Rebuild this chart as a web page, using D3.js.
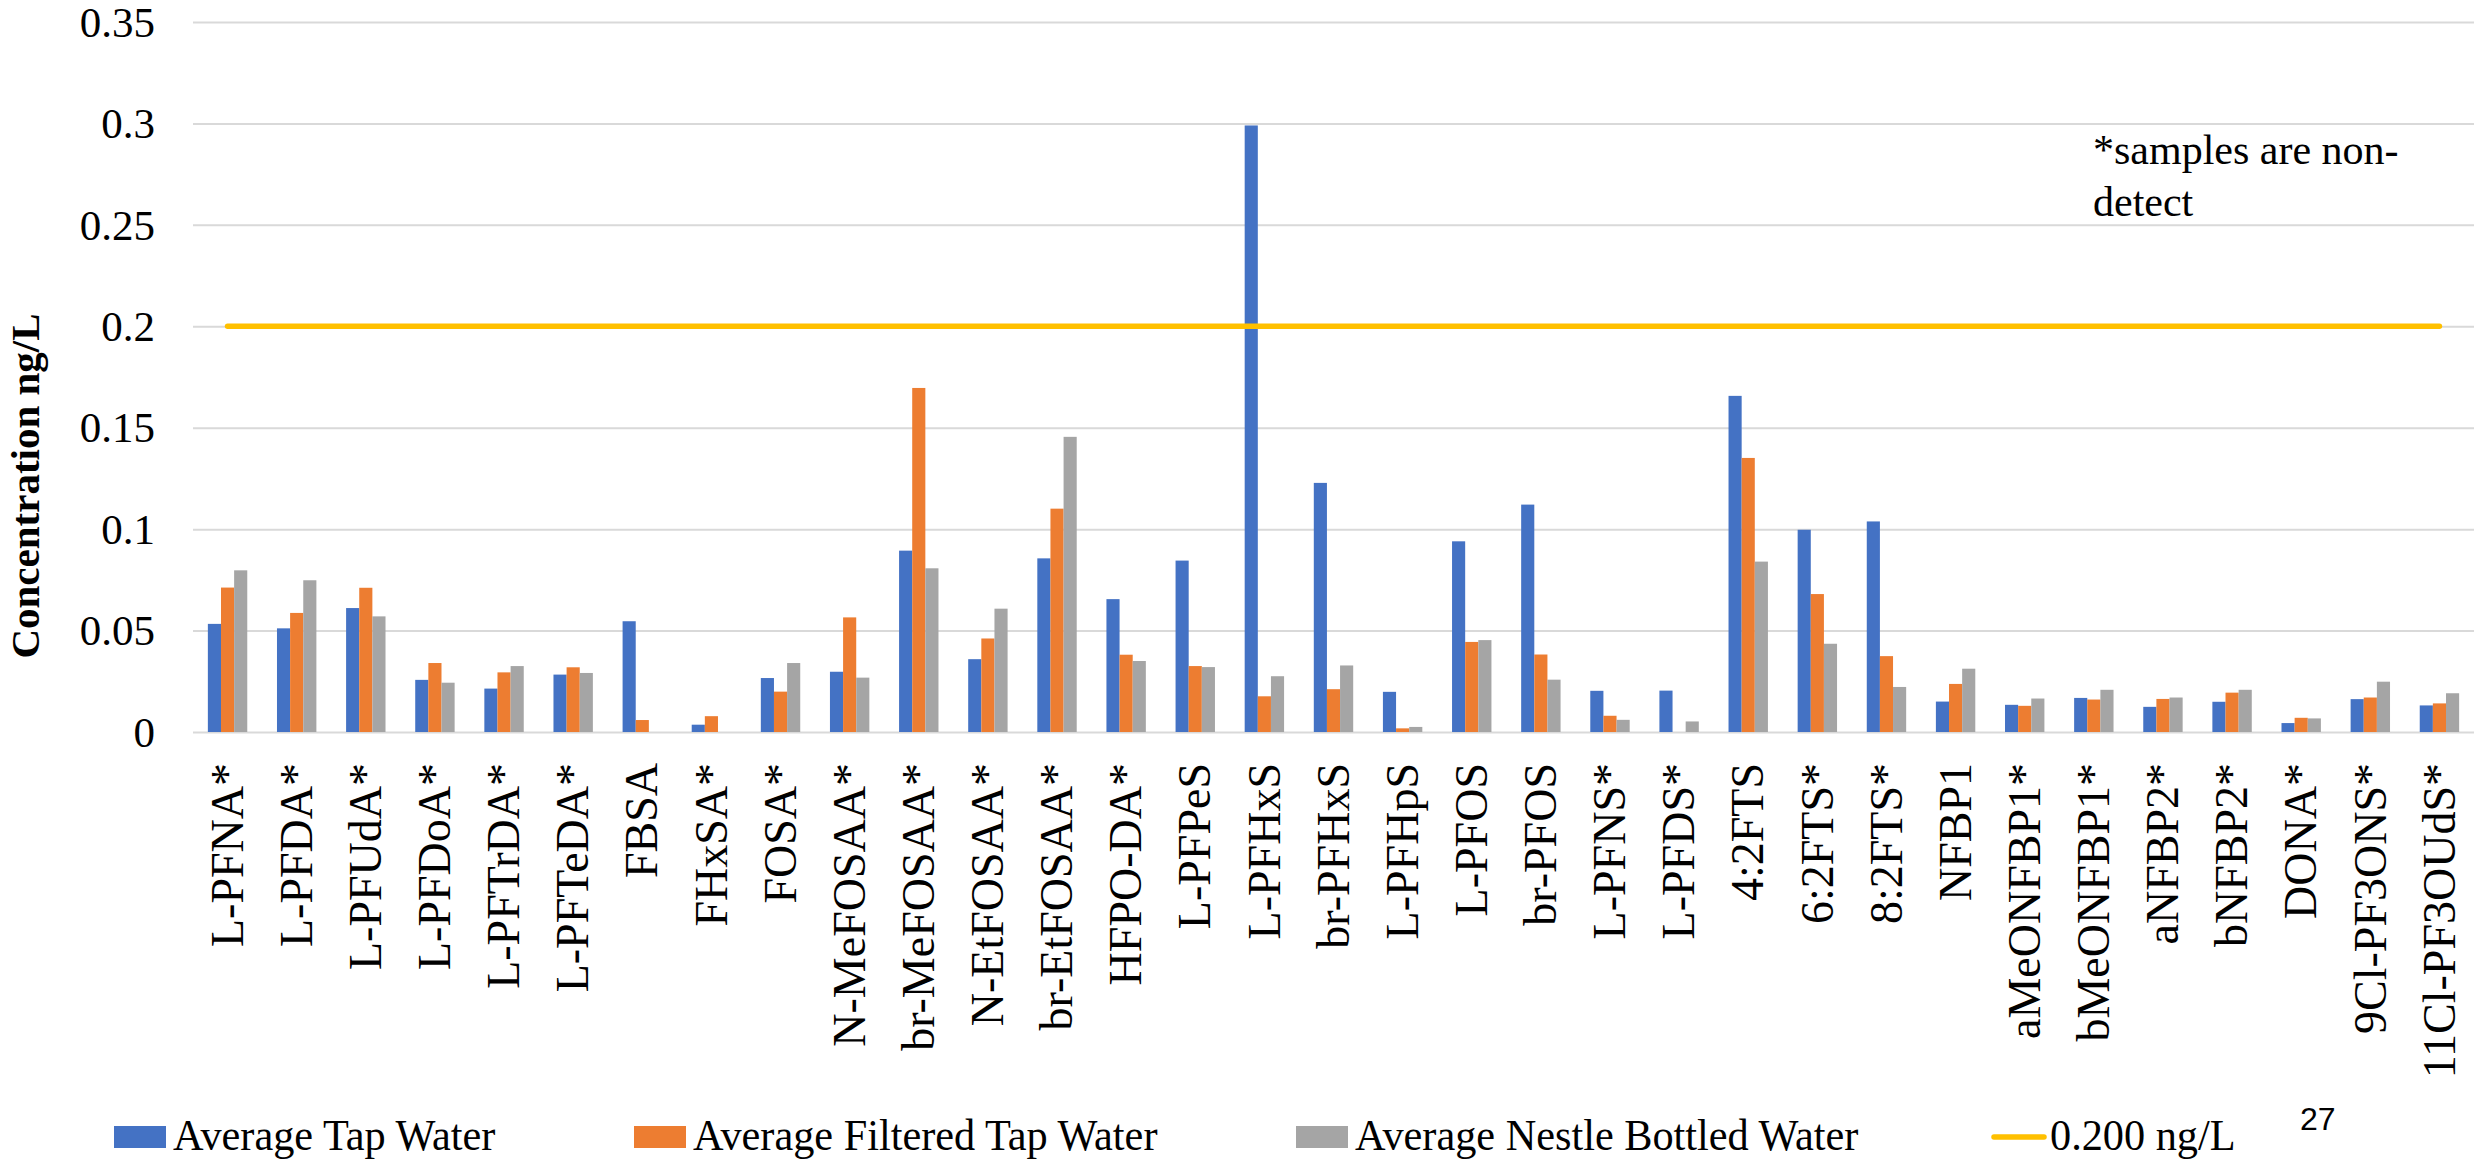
<!DOCTYPE html>
<html><head><meta charset="utf-8">
<script src="https://cdn.jsdelivr.net/npm/d3@7"></script>
<style>html,body{margin:0;padding:0;background:#fff;} svg{display:block;}</style>
</head><body>
<svg id="chart" width="2484" height="1159"></svg>
<script>
// ---------- DATA ----------
const categories = ["L-PFNA*","L-PFDA*","L-PFUdA*","L-PFDoA*","L-PFTrDA*","L-PFTeDA*","FBSA","FHxSA*","FOSA*","N-MeFOSAA*","br-MeFOSAA*","N-EtFOSAA*","br-EtFOSAA*","HFPO-DA*","L-PFPeS","L-PFHxS","br-PFHxS","L-PFHpS","L-PFOS","br-PFOS","L-PFNS*","L-PFDS*","4:2FTS","6:2FTS*","8:2FTS*","NFBP1","aMeONFBP1*","bMeONFBP1*","aNFBP2*","bNFBP2*","DONA*","9Cl-PF3ONS*","11Cl-PF3OUdS*"];
const tapWater =      [0.0533,0.0511,0.0611,0.0257,0.0214,0.0283,0.0546,0.0036,0.0266,0.0297,0.0894,0.0359,0.0856,0.0655,0.0845,0.299,0.1228,0.0198,0.0940,0.1121,0.0203,0.0204,0.1657,0.0997,0.1038,0.0150,0.0134,0.0168,0.0124,0.0149,0.0044,0.0162,0.0131];
const filteredWater = [0.0712,0.0587,0.0711,0.0340,0.0294,0.0319,0.0059,0.0078,0.0199,0.0565,0.1696,0.0461,0.1101,0.0381,0.0325,0.0176,0.0211,0.0018,0.0444,0.0382,0.0080,0.0,0.1351,0.0680,0.0374,0.0237,0.0129,0.0160,0.0163,0.0194,0.0070,0.0170,0.0141];
const bottledWater =  [0.0797,0.0748,0.0570,0.0243,0.0325,0.0291,0.0,0.0,0.0340,0.0268,0.0807,0.0608,0.1455,0.0350,0.0320,0.0275,0.0328,0.0025,0.0453,0.0258,0.0060,0.0052,0.0840,0.0435,0.0222,0.0312,0.0165,0.0208,0.0170,0.0208,0.0067,0.0248,0.0191];
const seriesNames = ["Average Tap Water","Average Filtered Tap Water","Average Nestle Bottled Water"];
const seriesColors = ["#4472C4","#ED7D31","#A5A5A5"];
const thresholdValue = 0.2;
const thresholdLabel = "0.200 ng/L";
const thresholdColor = "#FFC000";
const yTickValues = [0,0.05,0.1,0.15,0.2,0.25,0.3,0.35];
const yTickLabels = ["0","0.05","0.1","0.15","0.2","0.25","0.3","0.35"];
const yTitle = "Concentration ng/L";
const noteLines = ["*samples are non-","detect"];
const pageNumber = "27";

// ---------- LAYOUT ----------
const svg = d3.select("#chart");
const serif = "'Liberation Serif','Times New Roman',serif";
const plotLeft = 193, plotRight = 2474, plotTop = 22, plotBottom = 732;

const x0 = d3.scaleBand().domain(categories).range([plotLeft, plotRight]).paddingInner(0.43).paddingOuter(0.215);
const x1 = d3.scaleBand().domain(seriesNames).range([0, x0.bandwidth()]);
const y = d3.scaleLinear().domain([0, 0.35]).range([plotBottom, plotTop]);

// gridlines + y labels
const yAxis = svg.append("g").attr("transform", `translate(${plotLeft},0)`)
  .call(d3.axisLeft(y).tickValues(yTickValues).tickSize(-(plotRight - plotLeft)).tickPadding(38)
    .tickFormat((d, i) => yTickLabels[i]));
yAxis.select(".domain").remove();
yAxis.selectAll(".tick line").attr("stroke", "#D9D9D9").attr("stroke-width", 2);
yAxis.selectAll(".tick text").attr("font-family", serif).attr("font-size", 43).attr("fill", "#000").attr("dy", "0.33em");

// bars
const seriesData = [tapWater, filteredWater, bottledWater];
const groups = svg.append("g").selectAll("g").data(categories).join("g")
  .attr("transform", d => `translate(${x0(d)},0)`);
groups.selectAll("rect")
  .data((c, ci) => seriesNames.map((s, si) => ({s, si, v: seriesData[si][ci]})))
  .join("rect")
  .attr("x", d => x1(d.s))
  .attr("width", x1.bandwidth())
  .attr("y", d => y(d.v))
  .attr("height", d => y(0) - y(d.v))
  .attr("fill", d => seriesColors[d.si]);

// threshold line
const thresholdData = categories.map(c => ({c, v: thresholdValue}));
svg.append("path").datum(thresholdData)
  .attr("d", d3.line().x(d => x0(d.c) + x0.bandwidth() / 2).y(d => y(d.v)))
  .attr("fill", "none").attr("stroke", thresholdColor).attr("stroke-width", 5.5).attr("stroke-linecap", "round");

// x axis labels
const xAxis = svg.append("g").attr("transform", `translate(0,${plotBottom})`)
  .call(d3.axisBottom(x0).tickSize(0));
xAxis.select(".domain").remove();
xAxis.selectAll(".tick text")
  .attr("font-family", serif).attr("font-size", 46).attr("fill", "#000")
  .attr("transform", "rotate(-90)").attr("text-anchor", "end")
  .attr("x", -31).attr("y", 0).attr("dy", "0.33em");

// y title
svg.append("text").attr("transform", "translate(39,486) rotate(-90)")
  .attr("text-anchor", "middle").attr("font-family", serif).attr("font-weight", "bold")
  .attr("font-size", 41).text(yTitle);

// note
svg.append("text").attr("font-family", serif).attr("font-size", 42)
  .selectAll("tspan").data(noteLines).join("tspan")
  .attr("x", 2093).attr("y", (d, i) => 164 + i * 52).text(d => d);

// legend
const legendX = [114, 634, 1296];
const legend = svg.append("g");
const legendText = (x, t) => legend.append("text")
  .attr("transform", `translate(${x},1150) scale(0.94,1)`)
  .attr("font-family", serif).attr("font-size", 45).text(t);
seriesNames.forEach((s, i) => {
  legend.append("rect").attr("x", legendX[i]).attr("y", 1126).attr("width", 52).attr("height", 22).attr("fill", seriesColors[i]);
  legendText(legendX[i] + 59, s);
});
legend.append("line").attr("x1", 1994).attr("x2", 2044).attr("y1", 1137).attr("y2", 1137)
  .attr("stroke", thresholdColor).attr("stroke-width", 5.5).attr("stroke-linecap", "round");
legendText(2050, thresholdLabel);

// page number
svg.append("text").attr("x", 2300).attr("y", 1130).attr("font-family", "'Liberation Sans',Arial,sans-serif").attr("font-size", 32).text(pageNumber);
</script>
</body></html>
